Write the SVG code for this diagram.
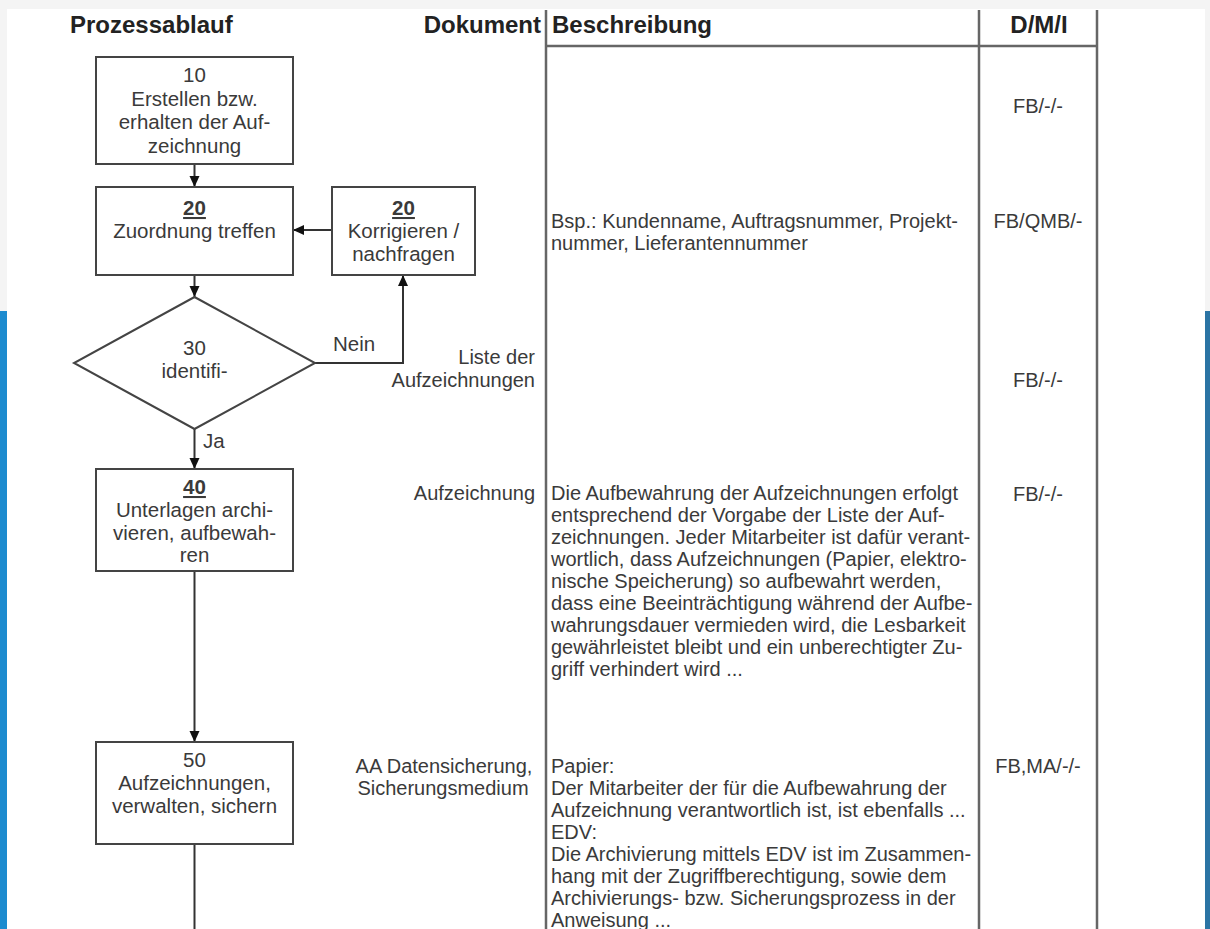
<svg xmlns="http://www.w3.org/2000/svg" width="1210" height="929" viewBox="0 0 1210 929">
<style>
.hdr{font-family:"Liberation Sans",Arial,sans-serif;font-size:24px;font-weight:bold;fill:#222}
.t{font-family:"Liberation Sans",Arial,sans-serif;font-size:20.5px;fill:#3a3a3a}
.d{font-family:"Liberation Sans",Arial,sans-serif;font-size:20px;fill:#3a3a3a}
.c{text-anchor:middle}
.r{text-anchor:end}
.b{font-weight:bold;text-decoration:underline}
.box{fill:#fff;stroke:#444;stroke-width:2}
.grid{stroke:#666;stroke-width:2.5;fill:none}
.conn{stroke:#333;stroke-width:2;fill:none}
</style>
<defs>
<marker id="arr" markerUnits="userSpaceOnUse" markerWidth="12" markerHeight="12" viewBox="0 0 12 12" refX="11" refY="6" orient="auto">
<path d="M0,1 L11,6 L0,11 Z" fill="#111"/>
</marker>
</defs>
<rect x="0" y="0" width="1210" height="929" fill="#f4f4f4"/>
<rect x="0" y="311" width="7" height="618" fill="#1c8bcf"/>
<rect x="1205" y="311" width="5" height="618" fill="#2b74a4"/>
<rect x="7" y="9" width="1198" height="920" fill="#ffffff"/>

<g id="table">
<line class="grid" x1="546" y1="10" x2="546" y2="929"/>
<line class="grid" x1="979" y1="10" x2="979" y2="929"/>
<line class="grid" x1="1097" y1="10" x2="1097" y2="929"/>
<line class="grid" x1="546" y1="46" x2="1097" y2="46"/>
<text class="hdr" x="70" y="33">Prozessablauf</text>
<text class="hdr r" x="541" y="33">Dokument</text>
<text class="hdr" x="552" y="33">Beschreibung</text>
<text class="hdr c" x="1039" y="33">D/M/I</text>
</g>

<g id="connectors">
<path class="conn" d="M194.5,164 L194.5,187" marker-end="url(#arr)"/>
<path class="conn" d="M332,230 L293,230" marker-end="url(#arr)"/>
<path class="conn" d="M194.5,275 L194.5,297" marker-end="url(#arr)"/>
<path class="conn" d="M313,363 L403,363 L403,275" marker-end="url(#arr)"/>
<path class="conn" d="M194.5,429 L194.5,469" marker-end="url(#arr)"/>
<path class="conn" d="M194.5,571 L194.5,742" marker-end="url(#arr)"/>
<path class="conn" d="M194.5,844 L194.5,929"/>
<text class="t" x="333" y="351">Nein</text>
<text class="t" x="203" y="448">Ja</text>
</g>

<g id="n10">
<rect class="box" x="96" y="57" width="197" height="107"/>
<text class="t c" x="194.5" y="82">10</text>
<text class="t c" x="194.5" y="106">Erstellen bzw.</text>
<text class="t c" x="194.5" y="129">erhalten der Auf-</text>
<text class="t c" x="194.5" y="153">zeichnung</text>
</g>

<g id="n20">
<rect class="box" x="96" y="187" width="197" height="88"/>
<text class="t c b" x="194.5" y="215">20</text>
<text class="t c" x="194.5" y="238">Zuordnung treffen</text>
</g>

<g id="n20k">
<rect class="box" x="332" y="187" width="143" height="88"/>
<text class="t c b" x="403.5" y="215">20</text>
<text class="t c" x="403.5" y="238">Korrigieren /</text>
<text class="t c" x="403.5" y="261">nachfragen</text>
</g>

<g id="n30">
<polygon class="box" points="194.5,297 315,363 194.5,429 74,363"/>
<text class="t c" x="194.5" y="355">30</text>
<text class="t c" x="194.5" y="378">identifi-</text>
</g>

<g id="n40">
<rect class="box" x="96" y="469" width="197" height="102"/>
<text class="t c b" x="194.5" y="494">40</text>
<text class="t c" x="194.5" y="517">Unterlagen archi-</text>
<text class="t c" x="194.5" y="540">vieren, aufbewah-</text>
<text class="t c" x="194.5" y="562">ren</text>
</g>

<g id="n50">
<rect class="box" x="96" y="742" width="197" height="102"/>
<text class="t c" x="194.5" y="767">50</text>
<text class="t c" x="194.5" y="790">Aufzeichnungen,</text>
<text class="t c" x="194.5" y="813">verwalten, sichern</text>
</g>

<g id="dokumente">
<text class="d r" x="535" y="364">Liste der</text>
<text class="d r" x="535" y="387">Aufzeichnungen</text>
<text class="d r" x="535" y="500">Aufzeichnung</text>
<text class="d c" x="444" y="773">AA Datensicherung,</text>
<text class="d c" x="443" y="795">Sicherungsmedium</text>
</g>

<g id="beschreibung">
<text class="d" x="551" y="228">Bsp.: Kundenname, Auftragsnummer, Projekt-</text>
<text class="d" x="551" y="250">nummer, Lieferantennummer</text>
<text class="d" x="551" y="500">Die Aufbewahrung der Aufzeichnungen erfolgt</text>
<text class="d" x="551" y="522">entsprechend der Vorgabe der Liste der Auf-</text>
<text class="d" x="551" y="544">zeichnungen. Jeder Mitarbeiter ist dafür verant-</text>
<text class="d" x="551" y="566">wortlich, dass Aufzeichnungen (Papier, elektro-</text>
<text class="d" x="551" y="588">nische Speicherung) so aufbewahrt werden,</text>
<text class="d" x="551" y="610">dass eine Beeinträchtigung während der Aufbe-</text>
<text class="d" x="551" y="632">wahrungsdauer vermieden wird, die Lesbarkeit</text>
<text class="d" x="551" y="654">gewährleistet bleibt und ein unberechtigter Zu-</text>
<text class="d" x="551" y="676">griff verhindert wird ...</text>
<text class="d" x="551" y="773">Papier:</text>
<text class="d" x="551" y="795">Der Mitarbeiter der für die Aufbewahrung der</text>
<text class="d" x="551" y="817">Aufzeichnung verantwortlich ist, ist ebenfalls ...</text>
<text class="d" x="551" y="839">EDV:</text>
<text class="d" x="551" y="861">Die Archivierung mittels EDV ist im Zusammen-</text>
<text class="d" x="551" y="883">hang mit der Zugriffberechtigung, sowie dem</text>
<text class="d" x="551" y="905">Archivierungs- bzw. Sicherungsprozess in der</text>
<text class="d" x="551" y="927">Anweisung ...</text>
</g>

<g id="dmi">
<text class="d c" x="1038" y="113">FB/-/-</text>
<text class="d c" x="1038" y="228">FB/QMB/-</text>
<text class="d c" x="1038" y="387">FB/-/-</text>
<text class="d c" x="1038" y="501">FB/-/-</text>
<text class="d c" x="1038" y="773">FB,MA/-/-</text>
</g>
</svg>
